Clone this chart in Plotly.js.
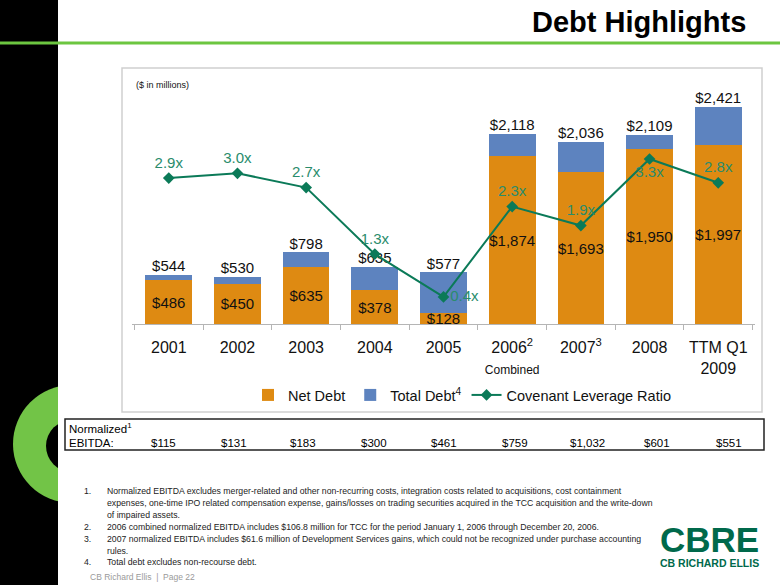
<!DOCTYPE html>
<html>
<head>
<meta charset="utf-8">
<script src="https://cdn.plot.ly/plotly-3.0.1.min.js"></script>
<style>html,body{margin:0;padding:0;background:#fff;}#chart{width:780px;height:585px;}</style>
</head>
<body>
<div id="chart"></div>
<script>
// ---- data ----
const categories = ['2001', '2002', '2003', '2004', '2005', '2006', '2007', '2008', 'TTM Q1 2009'];
const tickLabels = ['2001', '2002', '2003', '2004', '2005',
  '2006<sup>2</sup><br><span style="font-size:12px">Combined</span>',
  '2007<sup>3</sup>', '2008', 'TTM Q1<br>2009'];
const netDebt = [486, 450, 635, 378, 128, 1874, 1693, 1950, 1997];
const totalDebt = [544, 530, 798, 635, 577, 2118, 2036, 2109, 2421];
const leverage = [2.9, 3.0, 2.7, 1.3, 0.4, 2.3, 1.9, 3.3, 2.8];
const ebitda = [115, 131, 183, 300, 461, 759, 1032, 601, 551];
const footnotes = [
  ['1.', 'Normalized EBITDA excludes merger-related and other non-recurring costs, integration costs related to acquisitions, cost containment'],
  ['', 'expenses, one-time IPO related compensation expense, gains/losses on trading securities acquired in the TCC acquisition and the write-down'],
  ['', 'of impaired assets.'],
  ['2.', '2006 combined normalized EBITDA includes $106.8 million for TCC for the period January 1, 2006 through December 20, 2006.'],
  ['3.', '2007 normalized EBITDA includes $61.6 million of Development Services gains, which could not be recognized under purchase accounting'],
  ['', 'rules.'],
  ['4.', 'Total debt excludes non-recourse debt.']
];

// ---- layout helpers ----
const money = v => '$' + v.toLocaleString('en-US');
const FONT = "'Liberation Sans', Arial, sans-serif";
const W = 780, H = 585;
const px = x => x / W;
const py = y => 1 - y / H;
const ebitdaColX = [163, 234, 303, 374, 444, 515, 587, 657, 729]; // table column centres (page px)

const ORANGE = '#de8a12';
const BLUE = '#5d83bf';
const GREEN = '#0b7a58';
const LABELGREEN = '#2a8c6c';

const leverageLabelPos = leverage.map(() => 'top center');
leverageLabelPos[4] = 'middle right';
leverageLabelPos[7] = 'bottom center';

const traces = [
  {
    type: 'bar', name: 'Net Debt', x: categories, y: netDebt,
    marker: {color: ORANGE},
    text: netDebt.map(money), textposition: 'inside', insidetextanchor: 'middle',
    constraintext: 'none', textangle: 0,
    textfont: {family: FONT, size: 15, color: '#111'},
    hoverinfo: 'x+y'
  },
  {
    type: 'bar', name: 'Total Debt<sup>4</sup>', x: categories,
    y: totalDebt.map((t, i) => t - netDebt[i]),
    marker: {color: BLUE},
    hoverinfo: 'x+y'
  },
  {
    type: 'scatter', mode: 'text', x: categories, y: totalDebt,
    text: totalDebt.map(money), textposition: 'top center',
    textfont: {family: FONT, size: 15, color: '#111'},
    showlegend: false, hoverinfo: 'skip'
  },
  {
    type: 'scatter', mode: 'lines+markers+text', name: 'Covenant Leverage Ratio',
    x: categories, y: leverage, yaxis: 'y2',
    line: {color: GREEN, width: 2},
    marker: {symbol: 'diamond', size: 9, color: GREEN},
    text: leverage.map(v => v.toFixed(1) + 'x'),
    textposition: leverageLabelPos,
    textfont: {family: FONT, size: 15, color: LABELGREEN}
  }
];

const shapes = [
  {type: 'rect', xref: 'paper', yref: 'paper', x0: px(0), x1: px(58), y0: py(585), y1: py(0),
   fillcolor: '#000', line: {width: 0}, layer: 'below'},
  {type: 'circle', xref: 'paper', yref: 'paper', x0: px(13), x1: px(131), y0: py(503), y1: py(385),
   fillcolor: '#72c447', line: {width: 0}, layer: 'below'},
  {type: 'circle', xref: 'paper', yref: 'paper', x0: px(46), x1: px(98), y0: py(472), y1: py(420),
   fillcolor: '#000', line: {width: 0}, layer: 'below'},
  {type: 'rect', xref: 'paper', yref: 'paper', x0: px(58), x1: px(780), y0: py(585), y1: py(0),
   fillcolor: '#fff', line: {width: 0}, layer: 'below'},
  {type: 'line', xref: 'paper', yref: 'paper', x0: px(0), x1: px(780), y0: py(43), y1: py(43),
   line: {color: '#6cc640', width: 3}, layer: 'below'},
  {type: 'rect', xref: 'paper', yref: 'paper', x0: px(122), x1: px(762), y0: py(412), y1: py(68),
   fillcolor: 'rgba(0,0,0,0)', line: {color: '#cfcfcf', width: 1.5}, layer: 'below'},
  {type: 'rect', xref: 'paper', yref: 'paper', x0: px(65), x1: px(764), y0: py(450), y1: py(419),
   fillcolor: 'rgba(0,0,0,0)', line: {color: '#222', width: 1.5}, layer: 'below'}
];

const annotations = [
  {xref: 'paper', yref: 'paper', x: px(748), y: py(22), xanchor: 'right', yanchor: 'middle',
   text: '<b>Debt Highlights</b>', showarrow: false, font: {family: FONT, size: 29, color: '#000'}},
  {xref: 'paper', yref: 'paper', x: px(134), y: py(85), xanchor: 'left', yanchor: 'middle',
   text: '($ in millions)', showarrow: false, font: {family: FONT, size: 9, color: '#111'}},
  {xref: 'paper', yref: 'paper', x: px(67), y: py(428), xanchor: 'left', yanchor: 'middle',
   text: 'Normalized<sup>1</sup>', showarrow: false, font: {family: FONT, size: 11.5, color: '#000'}},
  {xref: 'paper', yref: 'paper', x: px(67), y: py(443), xanchor: 'left', yanchor: 'middle',
   text: 'EBITDA:', showarrow: false, font: {family: FONT, size: 11.5, color: '#000'}},
  {xref: 'paper', yref: 'paper', x: px(709), y: py(539), xanchor: 'center', yanchor: 'middle',
   text: '<b>CBRE</b>', showarrow: false, font: {family: FONT, size: 35, color: '#00694b'}},
  {xref: 'paper', yref: 'paper', x: px(709), y: py(563), xanchor: 'center', yanchor: 'middle',
   text: '<b>CB RICHARD ELLIS</b>', showarrow: false, font: {family: FONT, size: 10.5, color: '#00694b'}},
  {xref: 'paper', yref: 'paper', x: px(88), y: py(577), xanchor: 'left', yanchor: 'middle',
   text: 'CB Richard Ellis  |  Page 22', showarrow: false, font: {family: FONT, size: 8.5, color: '#9a9a9a'}}
];

ebitda.forEach((v, i) => {
  annotations.push({xref: 'paper', yref: 'paper', x: px(ebitdaColX[i]), y: py(443), xanchor: 'center', yanchor: 'middle',
    text: money(v), showarrow: false, font: {family: FONT, size: 11.5, color: '#000'}});
});

footnotes.forEach((f, i) => {
  const y = py(491 + i * 11.9);
  if (f[0]) annotations.push({xref: 'paper', yref: 'paper', x: px(82), y: y, xanchor: 'left', yanchor: 'middle',
    text: f[0], showarrow: false, font: {family: FONT, size: 8.7, color: '#222'}});
  annotations.push({xref: 'paper', yref: 'paper', x: px(105), y: y, xanchor: 'left', yanchor: 'middle',
    text: f[1], showarrow: false, font: {family: FONT, size: 8.7, color: '#222'}});
});

const layout = {
  width: W, height: H,
  margin: {l: 0, r: 0, t: 0, b: 0},
  paper_bgcolor: '#fff', plot_bgcolor: 'rgba(0,0,0,0)',
  barmode: 'stack', bargap: 0.32,
  showlegend: true,
  legend: {orientation: 'h', x: px(462), y: py(395), xanchor: 'center', yanchor: 'middle',
    font: {family: FONT, size: 14.5, color: '#111'}, bgcolor: 'rgba(0,0,0,0)', traceorder: 'normal',
    itemwidth: 30},
  xaxis: {
    domain: [px(132), px(755)], anchor: 'y',
    type: 'category', tickvals: categories, ticktext: tickLabels,
    showline: true, linecolor: '#b5b5b5', linewidth: 1,
    ticks: 'outside', tickson: 'boundaries', ticklen: 5, tickcolor: '#b5b5b5',
    ticklabelstandoff: 9,
    tickfont: {family: FONT, size: 16, color: '#111'},
    showgrid: false, zeroline: false, fixedrange: true
  },
  yaxis: {
    domain: [py(324), py(82)], range: [0, 2700],
    visible: false, showgrid: false, zeroline: false, fixedrange: true
  },
  yaxis2: {
    overlaying: 'y', side: 'right', range: [-0.17, 4.92],
    visible: false, showgrid: false, zeroline: false, fixedrange: true
  },
  shapes: shapes,
  annotations: annotations
};

Plotly.newPlot('chart', traces, layout, {displayModeBar: false, staticPlot: true});
</script>
</body>
</html>
